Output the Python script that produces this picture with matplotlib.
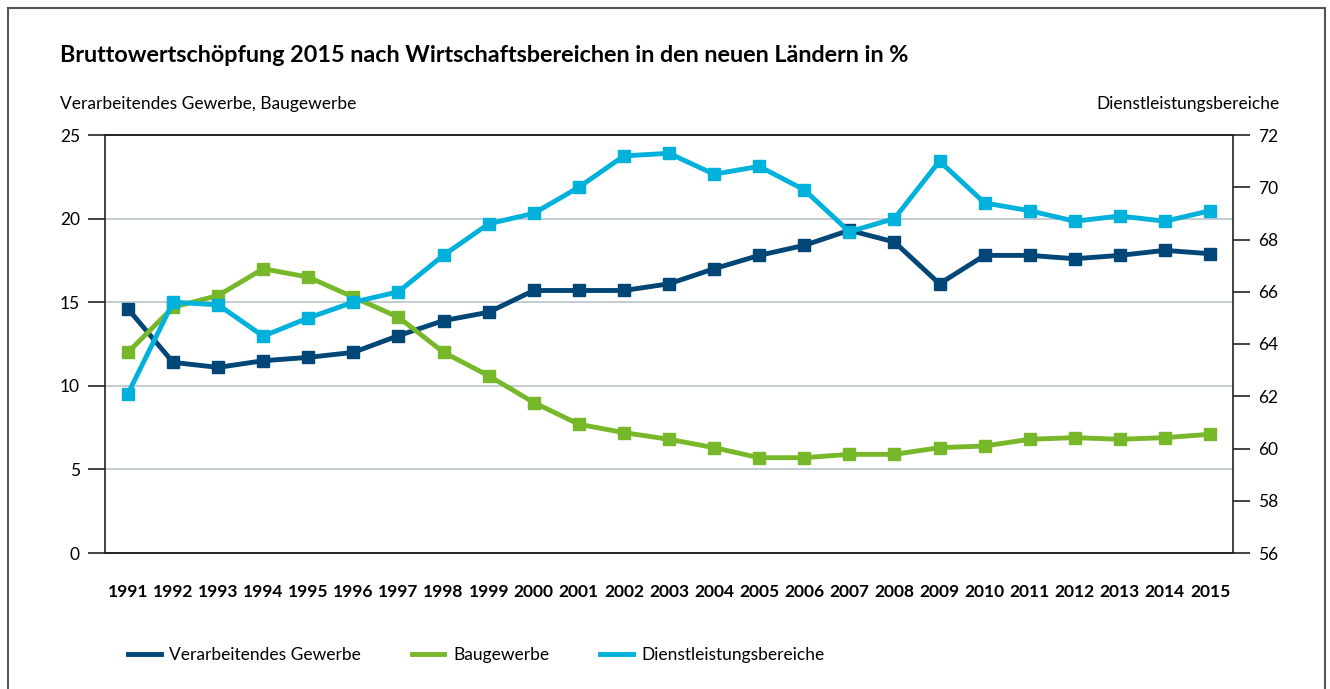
import matplotlib.pyplot as plt
from matplotlib.lines import Line2D
from matplotlib.patches import Rectangle

years = list(range(1991, 2016))

# Anteile in %
verarbeitendes = [14.6, 11.4, 11.1, 11.5, 11.7, 12.0, 13.0, 13.9, 14.4, 15.7,
                  15.7, 15.7, 16.1, 17.0, 17.8, 18.4, 19.3, 18.6, 16.1, 17.8,
                  17.8, 17.6, 17.8, 18.1, 17.9]
baugewerbe = [12.0, 14.7, 15.4, 17.0, 16.5, 15.3, 14.1, 12.0, 10.6, 9.0,
              7.7, 7.2, 6.8, 6.3, 5.7, 5.7, 5.9, 5.9, 6.3, 6.4,
              6.8, 6.9, 6.8, 6.9, 7.1]
dienstleistung = [62.1, 65.6, 65.5, 64.3, 65.0, 65.6, 66.0, 67.4, 68.6, 69.0,
                  70.0, 71.2, 71.3, 70.5, 70.8, 69.9, 68.3, 68.8, 71.0, 69.4,
                  69.1, 68.7, 68.9, 68.7, 69.1]

c_dark = '#004677'
c_green = '#76b82a'
c_light = '#00b1db'

plt.rcParams['font.family'] = ['Lato', 'DejaVu Sans']

fig = plt.figure(figsize=(13.3, 6.89), dpi=100)
ax = fig.add_axes([105 / 1330, 1 - 553 / 689, 1128 / 1330, 418 / 689])
ax2 = ax.twinx()

ax.plot(years, verarbeitendes, color=c_dark, lw=3.5, marker='s', ms=8.5, zorder=3)
ax.plot(years, baugewerbe, color=c_green, lw=3.5, marker='s', ms=8.5, zorder=3)
ax2.plot(years, dienstleistung, color=c_light, lw=3.5, marker='s', ms=8.5, zorder=3)

ax.set_xlim(1990.49, 2015.51)
ax.set_ylim(0, 25)
ax.set_yticks([0, 5, 10, 15, 20, 25])
ax2.set_ylim(56, 72)
ax2.set_yticks(range(56, 73, 2))
ax.set_xticks(years)
ax.set_xticklabels([str(y) for y in years], fontweight='bold', fontsize=12.5)

for y in [5, 10, 15, 20]:
    ax.axhline(y, color='#b9c3cc', lw=1.2, zorder=1)

for a in (ax, ax2):
    for s in a.spines.values():
        s.set_color('#222222')
        s.set_linewidth(1.2)
    a.tick_params(axis='y', length=12, width=1.2, labelsize=12.5, pad=6, color='#222222')
ax.tick_params(axis='x', length=0, pad=22)
ax2.spines['left'].set_visible(False)
ax.spines['right'].set_visible(False)

fig.text(60 / 1330, 1 - 56 / 689, 'Bruttowertschöpfung 2015 nach Wirtschaftsbereichen in den neuen Ländern in %',
         fontsize=16.8, fontweight='bold', va='center', ha='left')
fig.text(60 / 1330, 1 - 104 / 689, 'Verarbeitendes Gewerbe, Baugewerbe', fontsize=12.5, va='center', ha='left')
fig.text(1280 / 1330, 1 - 104 / 689, 'Dienstleistungsbereiche', fontsize=12.5, va='center', ha='right')

handles = [Line2D([], [], color=c_dark, lw=3.5),
           Line2D([], [], color=c_green, lw=3.5),
           Line2D([], [], color=c_light, lw=3.5)]
fig.legend(handles, ['Verarbeitendes Gewerbe', 'Baugewerbe', 'Dienstleistungsbereiche'],
           loc='center left', bbox_to_anchor=(112 / 1330, 1 - 655 / 689), ncol=3, frameon=False,
           fontsize=12.5, handlelength=1.9, handletextpad=0.5, columnspacing=2.9)

fig.patches.append(Rectangle((8 / 1330, -0.05), 1317 / 1330, 1.05 - 8 / 689, transform=fig.transFigure,
                             fill=False, edgecolor='#555555', lw=1.5))

fig.savefig('out.png', dpi=100)
